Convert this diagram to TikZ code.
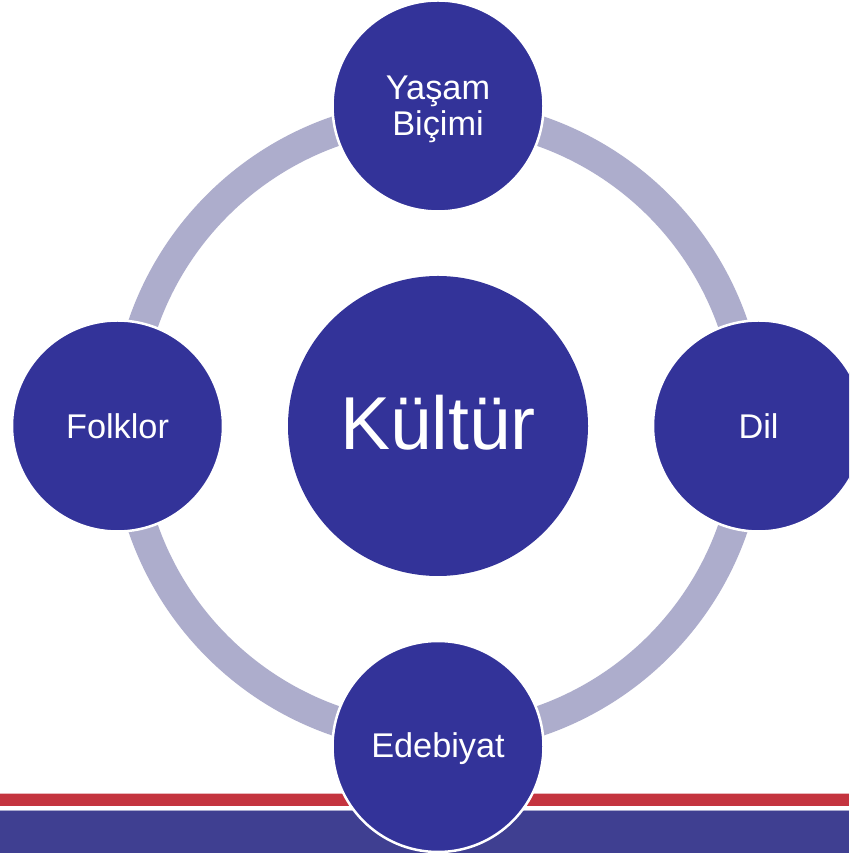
\documentclass[tikz,border=0pt]{standalone}
\usepackage{fontspec}
\setmainfont{Liberation Sans}
\definecolor{discblue}{HTML}{333399}
\definecolor{ringgrey}{HTML}{ADADCC}
\definecolor{bandred}{HTML}{C4343F}
\definecolor{bandblue}{HTML}{3F3F91}
\tikzset{
  disc/.style={circle,fill=discblue,draw=white,line width=2.5pt,minimum size=211pt,inner sep=0pt},
  bigdisc/.style={disc,minimum size=300pt,draw=none},
  disctext/.style={inner sep=0pt,text=white,align=center,font=\fontsize{34.3}{35.5}\selectfont},
  bigtext/.style={disctext,font=\fontsize{75}{80}\selectfont},
  ringarc/.style={draw=ringgrey,line width=30pt}
}
\begin{document}
\begin{tikzpicture}[x=1pt,y=1pt]
\useasboundingbox (0,0) rectangle (849,853);
\clip (0,0) rectangle (849,853);
\fill[white] (0,0) rectangle (849,853);
\fill[bandred!35!white] (0,59) rectangle (849,60);
\fill[bandred] (0,47) rectangle (849,59);
\fill[bandblue!45!white] (0,42) rectangle (849,43);
\fill[bandblue] (0,0) rectangle (849,42);
\coordinate (hub) at (438,427);
\coordinate (ringN) at (438,739);
\coordinate (ringE) at (750,427);
\coordinate (ringS) at (438,115);
\coordinate (ringW) at (126,427);
\draw[ringarc] (ringN) arc[start angle=90,end angle=0,radius=312pt];
\draw[ringarc] (ringE) arc[start angle=0,end angle=-90,radius=312pt];
\draw[ringarc] (ringS) arc[start angle=270,end angle=180,radius=312pt];
\draw[ringarc] (ringW) arc[start angle=180,end angle=90,radius=312pt];
\node[bigdisc] (kultur) at (hub) {};
\node[disc] (yasam) at (438,747) {};
\node[disc] (dil) at (758.5,427) {};
\node[disc] (edebiyat) at (438,106.5) {};
\node[disc] (folklor) at (117.5,427) {};
\node[bigtext] (kulturtext) at ([yshift=3pt]kultur.center) {Kültür};
\node[disctext] (yasamtext) at ([yshift=-3.5pt]yasam.center) {Yaşam\\Biçimi};
\node[disctext] (diltext) at ([yshift=0pt]dil.center) {Dil};
\node[disctext] (edebiyattext) at ([yshift=-2pt]edebiyat.center) {Edebiyat};
\node[disctext] (folklortext) at ([yshift=0pt]folklor.center) {Folklor};
\end{tikzpicture}
\end{document}
